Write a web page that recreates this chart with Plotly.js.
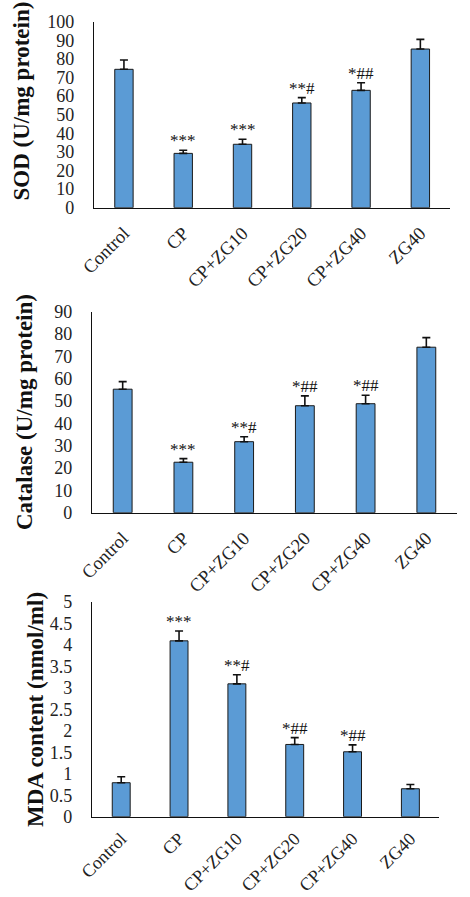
<!DOCTYPE html>
<html>
<head>
<meta charset="utf-8">
<script src="https://cdn.plot.ly/plotly-3.0.1.min.js"></script>
<style>html,body{margin:0;padding:0;background:#fff;}#chart{width:470px;height:897px;}</style>
</head>
<body>
<div id="chart"></div>
<script>
const categories = ['Control', 'CP', 'CP+ZG10', 'CP+ZG20', 'CP+ZG40', 'ZG40'];

const sodValues = [74.4, 29.2, 34.1, 56.3, 63.1, 85.3];
const sodErrors = [5.0, 1.7, 2.7, 2.9, 4.1, 5.2];
const sodMarks = ['', '***', '***', '**#', '*##', ''];

const catalaseValues = [55.3, 22.6, 31.8, 47.9, 48.8, 74.1];
const catalaseErrors = [3.4, 1.6, 2.2, 4.4, 3.8, 4.3];
const catalaseMarks = ['', '***', '**#', '*##', '*##', ''];

const mdaValues = [0.79, 4.09, 3.09, 1.68, 1.51, 0.65];
const mdaErrors = [0.14, 0.23, 0.21, 0.16, 0.16, 0.10];
const mdaMarks = ['', '***', '**#', '*##', '*##', ''];

const yTitles = ['SOD (U/mg protein)', 'Catalase (U/mg protein)', 'MDA content (nmol/ml)'];

const W = 470, H = 897;
const FONT = 'Liberation Serif, Times New Roman, serif';
const BAR = '#5B9BD5';

const panels = [
  {vals: sodValues, errs: sodErrors, marks: sodMarks, title: yTitles[0], range: [0, 100], dtick: 10,
   left: 94.3, right: 450, top: 21.7, bottom: 207.7, tx: 21.5, ty: 101, xstand: 6, xfs: 18.5},
  {vals: catalaseValues, errs: catalaseErrors, marks: catalaseMarks, title: yTitles[1], range: [0, 90], dtick: 10,
   left: 92.3, right: 456.7, top: 311.7, bottom: 512.7, tx: 24, ty: 412, xstand: 6, xfs: 18.5},
  {vals: mdaValues, errs: mdaErrors, marks: mdaMarks, title: yTitles[2], range: [0, 5], dtick: 0.5,
   left: 92.3, right: 439.3, top: 601.7, bottom: 816.7, tx: 35, ty: 710, xstand: 3, xfs: 18}
];

const data = [];
const annotations = [];
const layout = {
  width: W, height: H,
  margin: {l: 0, r: 0, t: 0, b: 0},
  paper_bgcolor: '#fff', plot_bgcolor: '#fff',
  showlegend: false,
  bargap: 0.69,
  font: {family: FONT, color: '#222'},
  annotations: annotations
};

panels.forEach((p, i) => {
  const n = i === 0 ? '' : String(i + 1);
  data.push({
    type: 'bar',
    x: categories,
    y: p.vals,
    xaxis: 'x' + n,
    yaxis: 'y' + n,
    marker: {color: BAR, line: {color: '#1a1a1a', width: 1}},
    error_y: {type: 'data', array: p.errs, arrayminus: p.errs.map(() => 0), symmetric: false,
              color: '#111', thickness: 1.6, width: 4},
    hoverinfo: 'x+y'
  });
  layout['xaxis' + n] = {
    domain: [p.left / W, p.right / W],
    anchor: 'y' + n,
    type: 'category',
    showline: true, linecolor: '#111', linewidth: 1.5,
    showgrid: false, zeroline: false, ticks: '',
    tickangle: -45,
    ticklabelstandoff: p.xstand,
    tickfont: {family: FONT, size: p.xfs, color: '#222'}
  };
  layout['yaxis' + n] = {
    domain: [1 - p.bottom / H, 1 - p.top / H],
    anchor: 'x' + n,
    range: p.range,
    dtick: p.dtick,
    tick0: 0,
    showline: true, linecolor: '#111', linewidth: 1.5,
    showgrid: false, zeroline: false, ticks: '',
    ticklabelstandoff: 15,
    tickfont: {family: FONT, size: 18, color: '#222'}
  };
  annotations.push({
    xref: 'paper', yref: 'paper',
    x: p.tx / W, y: 1 - p.ty / H,
    xanchor: 'center', yanchor: 'middle',
    textangle: -90,
    text: '<b>' + p.title + '</b>', showarrow: false,
    font: {family: FONT, size: 23, color: '#111'}
  });
  p.marks.forEach((m, k) => {
    if (!m) return;
    annotations.push({
      xref: 'x' + n, yref: 'y' + n,
      x: categories[k], y: p.vals[k] + p.errs[k],
      text: m, showarrow: false,
      yanchor: 'bottom', yshift: -2,
      font: {family: FONT, size: 17, color: '#111'}
    });
  });
});

Plotly.newPlot('chart', data, layout, {displayModeBar: false, staticPlot: true});
</script>
</body>
</html>
